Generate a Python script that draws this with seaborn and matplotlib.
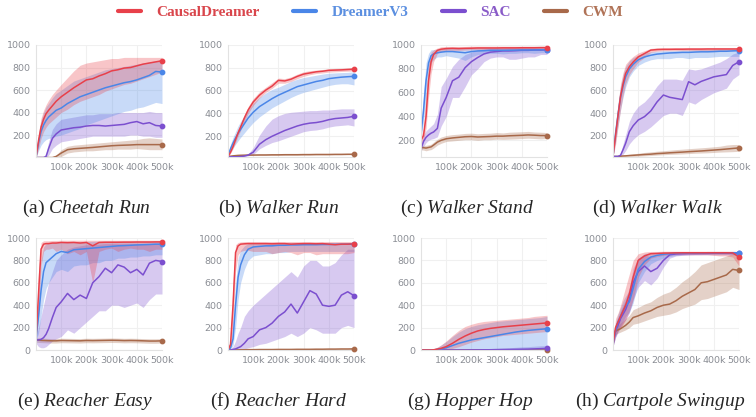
import numpy as np
import pandas as pd
import matplotlib
matplotlib.use("Agg")
import matplotlib.pyplot as plt
from matplotlib.lines import Line2D
import seaborn as sns

# training steps (in thousands)
steps = [0, 10, 20, 30, 40, 50, 65, 80, 100, 125, 150, 175, 200, 225, 250, 275, 300, 325, 350, 375, 400, 425, 450, 475, 500]

methods = ["CausalDreamer", "DreamerV3", "SAC", "CWM"]
line_colors = ["#e8404a", "#4a86e8", "#7b4fcf", "#a8694a"]
text_colors = ["#d9464c", "#5b8fe0", "#8a5cc8", "#b07357"]

# (a) Cheetah Run
cheetah_cd = [0, 150, 270, 340, 390, 420, 460, 500, 540, 580, 620, 655, 690, 700, 725, 745, 770, 780, 795, 800, 815, 830, 840, 850, 860]
cheetah_cd_lo = [0, 80, 170, 230, 270, 300, 330, 360, 400, 430, 470, 500, 520, 540, 560, 590, 610, 630, 650, 660, 680, 700, 720, 740, 760]
cheetah_cd_hi = [0, 220, 350, 420, 470, 510, 560, 600, 650, 710, 770, 820, 840, 850, 860, 870, 880, 880, 890, 890, 890, 890, 890, 890, 890]
cheetah_dv3 = [0, 130, 230, 290, 330, 360, 390, 420, 440, 480, 510, 540, 560, 580, 600, 620, 635, 650, 665, 675, 690, 710, 730, 765, 760]
cheetah_dv3_lo = [0, 60, 110, 140, 160, 170, 180, 190, 200, 220, 240, 260, 290, 310, 330, 350, 370, 390, 410, 420, 440, 450, 470, 490, 480]
cheetah_dv3_hi = [0, 200, 330, 400, 450, 480, 530, 570, 600, 640, 680, 700, 720, 740, 760, 780, 790, 800, 810, 820, 830, 840, 850, 860, 860]
cheetah_sac = [0, 0, 0, 0, 10, 80, 170, 210, 245, 255, 265, 270, 280, 285, 285, 280, 285, 290, 295, 310, 320, 300, 310, 285, 280]
cheetah_sac_lo = [0, 0, 0, 0, 0, 20, 80, 110, 140, 150, 160, 170, 180, 190, 190, 190, 190, 190, 190, 200, 200, 190, 190, 180, 180]
cheetah_sac_hi = [0, 0, 0, 0, 40, 140, 250, 300, 340, 350, 360, 370, 380, 380, 390, 390, 390, 400, 400, 400, 400, 400, 410, 400, 400]
cheetah_cwm = [0, 0, 0, 0, 0, 0, 0, 10, 40, 70, 78, 82, 86, 90, 95, 100, 105, 108, 110, 112, 115, 115, 115, 115, 115]
cheetah_cwm_lo = [0, 0, 0, 0, 0, 0, 0, 0, 10, 40, 50, 55, 60, 60, 65, 70, 70, 75, 75, 75, 80, 75, 70, 70, 70]
cheetah_cwm_hi = [0, 0, 0, 0, 0, 0, 0, 20, 70, 100, 110, 115, 120, 125, 130, 135, 140, 145, 150, 155, 160, 170, 175, 170, 165]

# (b) Walker Run
wrun_cd = [20, 60, 110, 170, 230, 280, 360, 430, 500, 560, 605, 640, 690, 685, 700, 725, 745, 755, 765, 770, 778, 780, 782, 785, 788]
wrun_cd_lo = [20, 50, 90, 145, 200, 250, 330, 400, 470, 535, 585, 620, 665, 665, 680, 705, 725, 740, 750, 755, 762, 765, 768, 770, 772]
wrun_cd_hi = [20, 75, 130, 195, 260, 310, 390, 460, 530, 590, 630, 670, 710, 705, 720, 745, 765, 775, 780, 785, 792, 795, 797, 800, 802]
wrun_dv3 = [30, 90, 140, 185, 225, 260, 310, 360, 410, 460, 495, 530, 560, 585, 610, 635, 650, 665, 680, 690, 705, 712, 718, 722, 725]
wrun_dv3_lo = [20, 60, 100, 130, 160, 190, 230, 270, 320, 370, 410, 450, 480, 510, 540, 565, 585, 600, 615, 630, 645, 655, 660, 660, 650]
wrun_dv3_hi = [40, 130, 190, 240, 290, 330, 380, 430, 490, 540, 580, 610, 630, 655, 680, 700, 715, 725, 735, 745, 752, 755, 758, 760, 765]
wrun_sac = [20, 20, 20, 20, 20, 22, 26, 35, 60, 130, 170, 200, 225, 250, 270, 290, 305, 315, 320, 330, 345, 355, 360, 365, 375]
wrun_sac_lo = [20, 20, 20, 20, 20, 20, 22, 28, 40, 90, 120, 145, 160, 180, 200, 220, 240, 250, 255, 265, 280, 290, 295, 300, 290]
wrun_sac_hi = [20, 20, 20, 20, 20, 25, 32, 45, 100, 210, 290, 350, 380, 400, 410, 415, 420, 425, 425, 430, 430, 435, 440, 440, 440]
wrun_cwm = [20, 25, 28, 30, 32, 33, 34, 35, 35, 36, 36, 37, 37, 38, 38, 38, 39, 39, 40, 40, 40, 41, 41, 42, 42]
wrun_cwm_lo = [20, 22, 24, 26, 28, 29, 30, 31, 31, 32, 32, 33, 33, 34, 34, 34, 35, 35, 36, 36, 36, 37, 37, 38, 38]
wrun_cwm_hi = [20, 28, 32, 34, 36, 37, 38, 39, 39, 40, 40, 41, 41, 42, 42, 42, 43, 43, 44, 44, 44, 45, 45, 46, 46]

# (c) Walker Stand
wstand_cd = [200, 240, 400, 700, 860, 920, 955, 965, 970, 972, 970, 972, 973, 975, 975, 975, 975, 976, 976, 976, 977, 977, 977, 978, 978]
wstand_cd_lo = [170, 200, 300, 560, 760, 860, 930, 945, 955, 955, 955, 958, 960, 960, 960, 960, 962, 962, 962, 962, 962, 962, 960, 960, 960]
wstand_cd_hi = [230, 300, 560, 850, 940, 960, 975, 985, 988, 988, 988, 988, 990, 990, 990, 990, 990, 990, 990, 990, 990, 990, 990, 990, 990]
wstand_dv3 = [250, 450, 700, 850, 910, 925, 935, 940, 945, 945, 940, 935, 945, 950, 952, 955, 955, 955, 956, 957, 958, 958, 958, 960, 960]
wstand_dv3_lo = [220, 350, 550, 750, 850, 880, 900, 900, 910, 900, 890, 870, 900, 920, 925, 930, 930, 925, 930, 930, 935, 935, 930, 935, 935]
wstand_dv3_hi = [280, 600, 850, 930, 960, 960, 965, 970, 975, 975, 975, 975, 975, 978, 978, 978, 978, 978, 978, 978, 980, 980, 980, 980, 980]
wstand_sac = [130, 190, 225, 245, 260, 270, 300, 470, 560, 700, 730, 810, 860, 895, 925, 940, 945, 950, 950, 952, 955, 955, 958, 958, 960]
wstand_sac_lo = [110, 150, 180, 200, 210, 215, 230, 320, 400, 560, 560, 650, 750, 800, 860, 890, 900, 900, 880, 880, 890, 900, 900, 920, 920]
wstand_sac_hi = [150, 240, 280, 300, 320, 340, 420, 650, 720, 820, 880, 920, 940, 960, 965, 970, 972, 972, 975, 975, 975, 975, 975, 975, 975]
wstand_cwm = [140, 138, 135, 140, 145, 160, 185, 200, 213, 220, 225, 230, 232, 228, 230, 232, 235, 235, 238, 240, 242, 245, 243, 240, 240]
wstand_cwm_lo = [120, 118, 112, 118, 122, 135, 160, 175, 190, 195, 200, 205, 205, 200, 205, 205, 210, 208, 210, 212, 215, 218, 215, 212, 215]
wstand_cwm_hi = [160, 158, 158, 162, 168, 185, 210, 228, 240, 248, 252, 258, 260, 255, 258, 260, 265, 262, 268, 270, 272, 275, 270, 268, 265]

# (d) Walker Walk
wwalk_cd = [20, 200, 380, 550, 660, 750, 810, 850, 895, 925, 955, 960, 962, 962, 963, 963, 964, 964, 964, 965, 965, 965, 965, 965, 965]
wwalk_cd_lo = [20, 120, 280, 430, 560, 660, 740, 790, 850, 890, 935, 945, 950, 950, 950, 950, 950, 950, 950, 950, 952, 952, 952, 952, 952]
wwalk_cd_hi = [20, 290, 480, 660, 760, 830, 870, 900, 930, 950, 970, 975, 975, 975, 975, 975, 975, 975, 975, 975, 975, 975, 975, 975, 975]
wwalk_dv3 = [20, 220, 390, 540, 640, 720, 790, 830, 870, 895, 910, 920, 925, 930, 932, 935, 935, 938, 940, 940, 942, 945, 945, 948, 950]
wwalk_dv3_lo = [20, 150, 290, 430, 540, 630, 720, 770, 820, 850, 870, 880, 880, 880, 890, 890, 880, 890, 890, 890, 895, 900, 900, 900, 900]
wwalk_dv3_hi = [20, 290, 490, 640, 740, 810, 860, 890, 910, 930, 940, 945, 950, 950, 952, 955, 955, 958, 960, 960, 960, 962, 962, 962, 962]
wwalk_sac = [20, 20, 20, 30, 80, 135, 238, 290, 340, 370, 420, 500, 560, 540, 530, 520, 677, 650, 680, 700, 720, 730, 740, 820, 853]
wwalk_sac_lo = [20, 20, 20, 20, 40, 70, 130, 170, 210, 240, 280, 330, 380, 400, 400, 380, 500, 480, 520, 550, 580, 600, 620, 700, 740]
wwalk_sac_hi = [20, 20, 25, 50, 130, 210, 330, 400, 460, 500, 560, 640, 700, 700, 700, 690, 790, 780, 790, 810, 830, 850, 880, 920, 940]
wwalk_cwm = [20, 20, 20, 22, 24, 25, 28, 30, 33, 37, 40, 45, 48, 52, 55, 58, 62, 65, 68, 72, 76, 80, 85, 90, 95]
wwalk_cwm_lo = [20, 20, 20, 20, 20, 20, 20, 20, 22, 25, 28, 32, 35, 38, 40, 42, 45, 48, 50, 52, 55, 58, 60, 62, 65]
wwalk_cwm_hi = [20, 22, 25, 28, 32, 35, 38, 42, 48, 55, 60, 66, 70, 75, 80, 84, 88, 92, 96, 100, 105, 110, 120, 125, 125]

# (e) Reacher Easy
reasy_cd = [100, 500, 900, 945, 950, 950, 955, 955, 960, 958, 960, 955, 960, 930, 960, 962, 962, 962, 963, 963, 964, 964, 964, 965, 965]
reasy_cd_lo = [80, 300, 750, 880, 900, 900, 910, 880, 900, 860, 880, 850, 880, 600, 880, 900, 910, 880, 900, 910, 900, 900, 880, 900, 900]
reasy_cd_hi = [120, 700, 960, 975, 975, 975, 978, 978, 980, 980, 980, 980, 980, 980, 980, 980, 980, 980, 980, 980, 980, 980, 980, 980, 980]
reasy_dv3 = [100, 300, 530, 700, 780, 800, 830, 860, 880, 870, 895, 900, 905, 910, 915, 920, 925, 930, 932, 935, 938, 940, 942, 945, 945]
reasy_dv3_lo = [80, 150, 300, 450, 550, 600, 650, 700, 720, 700, 750, 760, 760, 780, 780, 800, 800, 820, 820, 830, 830, 840, 840, 850, 850]
reasy_dv3_hi = [120, 500, 800, 920, 950, 955, 960, 960, 965, 965, 968, 968, 968, 970, 970, 970, 970, 970, 970, 970, 970, 970, 970, 970, 970]
reasy_sac = [90, 90, 95, 110, 140, 190, 290, 380, 430, 505, 450, 490, 460, 600, 655, 730, 690, 760, 740, 690, 720, 670, 775, 800, 790]
reasy_sac_lo = [60, 30, 20, 20, 30, 50, 80, 100, 120, 180, 150, 200, 250, 300, 350, 350, 400, 400, 380, 400, 420, 380, 450, 500, 500]
reasy_sac_hi = [120, 200, 300, 400, 500, 600, 700, 800, 850, 900, 920, 930, 940, 940, 945, 950, 950, 950, 950, 950, 950, 950, 950, 950, 950]
reasy_cwm = [90, 88, 86, 85, 84, 83, 82, 82, 85, 84, 83, 82, 85, 84, 85, 86, 87, 86, 84, 85, 84, 82, 80, 80, 82]
reasy_cwm_lo = [70, 68, 66, 65, 64, 63, 62, 62, 65, 64, 63, 62, 65, 64, 65, 66, 67, 66, 64, 65, 64, 62, 60, 60, 62]
reasy_cwm_hi = [110, 108, 106, 105, 104, 103, 102, 102, 105, 104, 103, 102, 105, 104, 105, 106, 107, 106, 104, 105, 104, 102, 100, 100, 102]

# (f) Reacher Hard
rhard_cd = [0, 50, 400, 870, 930, 945, 948, 950, 950, 950, 950, 948, 950, 950, 945, 948, 950, 950, 948, 950, 945, 940, 945, 945, 948]
rhard_cd_lo = [0, 20, 200, 700, 850, 880, 890, 890, 880, 880, 880, 860, 870, 880, 870, 850, 870, 870, 850, 860, 860, 860, 860, 860, 870]
rhard_cd_hi = [0, 100, 600, 940, 960, 965, 968, 968, 968, 968, 968, 968, 968, 968, 968, 968, 968, 968, 968, 968, 968, 968, 968, 968, 968]
rhard_dv3 = [0, 20, 100, 400, 650, 760, 850, 900, 920, 925, 930, 930, 935, 935, 938, 938, 940, 940, 940, 942, 942, 943, 944, 945, 945]
rhard_dv3_lo = [0, 10, 40, 200, 450, 600, 720, 800, 840, 850, 860, 860, 870, 870, 880, 880, 880, 880, 880, 880, 880, 880, 880, 880, 880]
rhard_dv3_hi = [0, 40, 200, 600, 820, 890, 930, 950, 955, 958, 958, 960, 960, 960, 960, 960, 960, 960, 960, 960, 960, 960, 960, 960, 960]
rhard_sac = [0, 0, 5, 10, 20, 30, 60, 100, 120, 180, 200, 240, 300, 340, 410, 330, 430, 530, 500, 400, 390, 400, 490, 520, 485]
rhard_sac_lo = [0, 0, 0, 0, 0, 5, 10, 20, 30, 50, 60, 80, 100, 120, 150, 120, 150, 200, 180, 150, 150, 150, 200, 220, 200]
rhard_sac_hi = [0, 10, 30, 80, 150, 200, 300, 350, 400, 450, 500, 550, 600, 650, 700, 650, 750, 800, 800, 750, 750, 780, 850, 900, 900]
rhard_cwm = [0, 0, 0, 1, 1, 2, 2, 3, 3, 4, 4, 4, 5, 5, 5, 6, 6, 6, 7, 7, 8, 8, 9, 9, 10]
rhard_cwm_lo = [0, 0, 0, 0, 0, 0, 0, 0, 0, 1, 1, 1, 2, 2, 2, 3, 3, 3, 4, 4, 4, 5, 5, 5, 6]
rhard_cwm_hi = [0, 1, 2, 3, 4, 5, 5, 6, 6, 7, 7, 8, 8, 9, 9, 10, 10, 10, 11, 11, 12, 12, 13, 13, 14]

# (g) Hopper Hop
hop_cd = [0, 0, 0, 0, 0, 2, 8, 15, 30, 60, 95, 125, 150, 170, 183, 193, 200, 207, 212, 217, 222, 227, 232, 237, 242]
hop_cd_lo = [0, 0, 0, 0, 0, 0, 0, 0, 5, 15, 30, 50, 70, 85, 100, 110, 120, 130, 135, 140, 145, 150, 155, 160, 165]
hop_cd_hi = [0, 0, 0, 0, 2, 10, 25, 45, 80, 130, 175, 210, 230, 245, 255, 260, 265, 270, 275, 280, 285, 290, 300, 305, 310]
hop_dv3 = [0, 0, 0, 0, 0, 1, 5, 10, 20, 40, 60, 75, 90, 100, 110, 120, 130, 140, 150, 160, 168, 175, 180, 185, 190]
hop_dv3_lo = [0, 0, 0, 0, 0, 0, 0, 0, 0, 0, 0, 0, 0, 0, 0, 0, 0, 0, 0, 0, 0, 0, 0, 0, 0]
hop_dv3_hi = [0, 0, 0, 0, 2, 10, 25, 45, 75, 120, 160, 190, 210, 225, 235, 245, 255, 260, 265, 270, 275, 280, 285, 290, 300]
hop_sac = [0, 0, 0, 0, 0, 0, 0, 0, 0, 0, 0, 0, 1, 1, 2, 2, 3, 4, 5, 6, 7, 8, 10, 12, 15]
hop_sac_lo = [0, 0, 0, 0, 0, 0, 0, 0, 0, 0, 0, 0, 0, 0, 0, 0, 0, 0, 0, 0, 0, 0, 0, 0, 0]
hop_sac_hi = [0, 0, 0, 0, 0, 0, 0, 0, 0, 2, 4, 6, 8, 10, 12, 14, 16, 18, 20, 24, 28, 30, 34, 38, 40]
hop_cwm = [0, 0, 0, 0, 0, 0, 0, 0, 0, 0, 0, 0, 0, 0, 0, 0, 0, 0, 0, 0, 0, 0, 0, 0, 0]
hop_cwm_lo = [0, 0, 0, 0, 0, 0, 0, 0, 0, 0, 0, 0, 0, 0, 0, 0, 0, 0, 0, 0, 0, 0, 0, 0, 0]
hop_cwm_hi = [0, 0, 0, 0, 0, 0, 0, 0, 0, 0, 0, 0, 0, 0, 0, 0, 0, 0, 0, 0, 0, 0, 0, 0, 0]

# (h) Cartpole Swingup
cart_cd = [50, 200, 250, 300, 350, 400, 500, 650, 800, 840, 860, 862, 865, 866, 867, 868, 868, 868, 868, 868, 868, 868, 868, 867, 830]
cart_cd_lo = [30, 120, 170, 200, 230, 270, 350, 450, 650, 760, 820, 835, 845, 850, 850, 850, 850, 850, 850, 850, 845, 840, 840, 830, 750]
cart_cd_hi = [70, 280, 330, 400, 480, 560, 680, 800, 860, 875, 880, 880, 882, 882, 882, 882, 882, 882, 882, 882, 882, 882, 882, 882, 880]
cart_dv3 = [50, 180, 250, 300, 350, 390, 430, 550, 720, 790, 830, 845, 855, 860, 865, 866, 867, 867, 867, 868, 868, 868, 868, 868, 868]
cart_dv3_lo = [30, 120, 180, 220, 260, 300, 340, 420, 600, 700, 770, 800, 820, 835, 845, 850, 852, 852, 852, 855, 855, 855, 855, 855, 855]
cart_dv3_hi = [70, 240, 320, 380, 440, 480, 530, 680, 820, 860, 870, 872, 875, 875, 878, 878, 878, 878, 878, 880, 880, 880, 880, 880, 880]
cart_sac = [50, 170, 220, 280, 320, 360, 450, 600, 700, 750, 700, 730, 800, 850, 858, 860, 862, 862, 863, 863, 864, 864, 865, 865, 865]
cart_sac_lo = [30, 110, 160, 200, 240, 270, 330, 450, 560, 620, 580, 640, 740, 820, 840, 845, 848, 850, 850, 850, 850, 850, 850, 850, 850]
cart_sac_hi = [70, 230, 290, 350, 400, 450, 560, 730, 820, 850, 830, 840, 860, 870, 875, 875, 876, 876, 876, 876, 878, 878, 878, 878, 878]
cart_cwm = [100, 170, 180, 190, 205, 220, 250, 290, 305, 330, 350, 380, 400, 410, 440, 480, 510, 540, 600, 610, 630, 650, 670, 720, 710]
cart_cwm_lo = [80, 140, 150, 160, 170, 180, 200, 230, 240, 260, 280, 300, 310, 320, 340, 370, 390, 410, 450, 460, 480, 500, 520, 560, 540]
cart_cwm_hi = [120, 200, 220, 240, 260, 280, 310, 360, 380, 410, 430, 470, 500, 520, 560, 610, 650, 700, 760, 780, 800, 820, 840, 860, 860]

panels = [
    ("(a)", "Cheetah Run", [(cheetah_cd, cheetah_cd_lo, cheetah_cd_hi), (cheetah_dv3, cheetah_dv3_lo, cheetah_dv3_hi),
                            (cheetah_sac, cheetah_sac_lo, cheetah_sac_hi), (cheetah_cwm, cheetah_cwm_lo, cheetah_cwm_hi)]),
    ("(b)", "Walker Run", [(wrun_cd, wrun_cd_lo, wrun_cd_hi), (wrun_dv3, wrun_dv3_lo, wrun_dv3_hi),
                           (wrun_sac, wrun_sac_lo, wrun_sac_hi), (wrun_cwm, wrun_cwm_lo, wrun_cwm_hi)]),
    ("(c)", "Walker Stand", [(wstand_cd, wstand_cd_lo, wstand_cd_hi), (wstand_dv3, wstand_dv3_lo, wstand_dv3_hi),
                             (wstand_sac, wstand_sac_lo, wstand_sac_hi), (wstand_cwm, wstand_cwm_lo, wstand_cwm_hi)]),
    ("(d)", "Walker Walk", [(wwalk_cd, wwalk_cd_lo, wwalk_cd_hi), (wwalk_dv3, wwalk_dv3_lo, wwalk_dv3_hi),
                            (wwalk_sac, wwalk_sac_lo, wwalk_sac_hi), (wwalk_cwm, wwalk_cwm_lo, wwalk_cwm_hi)]),
    ("(e)", "Reacher Easy", [(reasy_cd, reasy_cd_lo, reasy_cd_hi), (reasy_dv3, reasy_dv3_lo, reasy_dv3_hi),
                             (reasy_sac, reasy_sac_lo, reasy_sac_hi), (reasy_cwm, reasy_cwm_lo, reasy_cwm_hi)]),
    ("(f)", "Reacher Hard", [(rhard_cd, rhard_cd_lo, rhard_cd_hi), (rhard_dv3, rhard_dv3_lo, rhard_dv3_hi),
                             (rhard_sac, rhard_sac_lo, rhard_sac_hi), (rhard_cwm, rhard_cwm_lo, rhard_cwm_hi)]),
    ("(g)", "Hopper Hop", [(hop_cd, hop_cd_lo, hop_cd_hi), (hop_dv3, hop_dv3_lo, hop_dv3_hi),
                           (hop_sac, hop_sac_lo, hop_sac_hi), (hop_cwm, hop_cwm_lo, hop_cwm_hi)]),
    ("(h)", "Cartpole Swingup", [(cart_cd, cart_cd_lo, cart_cd_hi), (cart_dv3, cart_dv3_lo, cart_dv3_hi),
                                 (cart_sac, cart_sac_lo, cart_sac_hi), (cart_cwm, cart_cwm_lo, cart_cwm_hi)]),
]
y_bottoms = [5, 18, 60, 15, 0, 0, 0, 0]

sns.set_style("white")
plt.rcParams["font.family"] = ["DejaVu Sans"]
plt.rcParams["mathtext.fontset"] = "custom"
plt.rcParams["mathtext.rm"] = "Liberation Serif"
plt.rcParams["mathtext.it"] = "Liberation Serif:italic"

fig = plt.figure(figsize=(7.56, 4.17), dpi=100)

# axes boxes in pixels: left, top
lefts = [36, 228, 421, 613]
tops = [45, 238]
ax_w, ax_h = 126, 112
cap_left = [22, 218, 400, 592, 17, 210, 407, 575]
cap_y = [208, 401]

for i, (tag, name, series) in enumerate(panels):
    r, c = divmod(i, 4)
    ax = fig.add_axes([lefts[c] / 756, 1 - (tops[r] + ax_h) / 417, ax_w / 756, ax_h / 417])

    rows = []
    for m, (mean, lo, hi) in zip(methods, series):
        for s, v in zip(steps, mean):
            rows.append((s * 1000, v, m))
    df = pd.DataFrame(rows, columns=["step", "ret", "method"])

    # bands first, CausalDreamer on top
    for k in [3, 2, 1, 0]:
        mean, lo, hi = series[k]
        ax.fill_between(np.array(steps) * 1000, lo, hi, color=line_colors[k], alpha=0.3, lw=0)
    sns.lineplot(data=df, x="step", y="ret", hue="method", hue_order=methods[::-1],
                 palette=line_colors[::-1], errorbar=None, legend=False, lw=1.1, ax=ax)
    for k in [3, 2, 1, 0]:
        ax.scatter([steps[-1] * 1000], [series[k][0][-1]], s=10, color=line_colors[k], zorder=5, clip_on=False)

    ax.set_xlim(0, 500000)
    ax.set_ylim(y_bottoms[i], 1000)
    ax.set_xticks([100000, 200000, 300000, 400000, 500000])
    ax.set_xticklabels(["100k", "200k", "300k", "400k", "500k"])
    if r == 0:
        ax.set_yticks([200, 400, 600, 800, 1000])
    else:
        ax.set_yticks([0, 200, 400, 600, 800, 1000])
    ax.set_xlabel("")
    ax.set_ylabel("")
    ax.grid(True, color="#f0f0f0", lw=0.8)
    ax.set_axisbelow(True)
    for sp in ["top", "right"]:
        ax.spines[sp].set_visible(False)
    for sp in ["left", "bottom"]:
        ax.spines[sp].set_color("#e2e2e2")
        ax.spines[sp].set_linewidth(0.8)
    ax.tick_params(length=0, labelsize=6.8, colors="#8a8d94", pad=4)

    fig.text(cap_left[i] / 756, 1 - cap_y[r] / 417,
             tag + " $\\mathit{" + name.replace(" ", "\\ ") + "}$",
             ha="left", va="center", fontsize=14, family="Liberation Serif")

handles = [Line2D([], [], color=c, lw=3) for c in line_colors]
leg = fig.legend(handles, methods, loc="upper center", bbox_to_anchor=(0.49, 1.02), ncol=4,
                 frameon=False, handlelength=1.5, handletextpad=1.0, columnspacing=2.2,
                 prop={"family": "Liberation Serif", "weight": "bold", "size": 11})
for t, c in zip(leg.get_texts(), text_colors):
    t.set_color(c)

fig.savefig("out.png", dpi=100)
